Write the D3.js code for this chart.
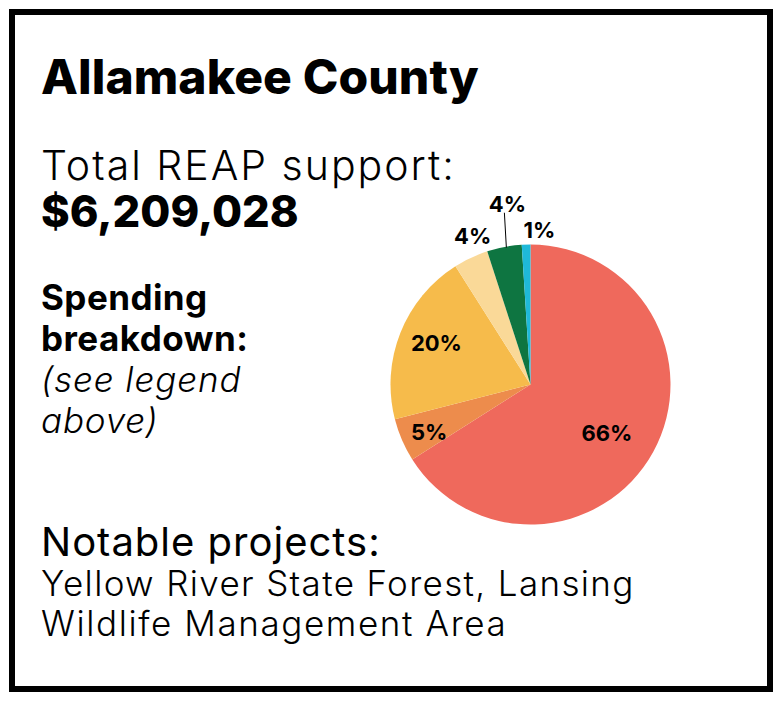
<!DOCTYPE html>
<html>
<head>
<meta charset="utf-8">
<script src="https://cdn.jsdelivr.net/npm/d3@7"></script>
<style>
body { margin: 0; background: #fff; }
text { font-family: "Inter", "Open Sans", sans-serif; fill: #000; }
</style>
</head>
<body>
<svg></svg>
<script>
const WIDTH = 782, HEIGHT = 701;
const CENTER = { x: 530.5, y: 384.5 }, RADIUS = 140;

const shares = [66, 5, 20, 4, 4, 1];
const colors = ["#ef695c", "#ed8c4c", "#f6bb4b", "#fad998", "#0e7541", "#1fb9d9"];
// nudge of each label away from its slice centroid, the small slices sit outside the pie
const labelOffsets = [[15, 23], [-37, 28], [-29, -8], [-28, -77], [-10, -104], [11, -77]];

var svg = d3.select("svg").attr("width", WIDTH).attr("height", HEIGHT).style("display", "block");

svg.append("rect").attr("x", 12).attr("y", 12).attr("width", 758).attr("height", 677)
    .attr("fill", "#fff").attr("stroke", "#000").attr("stroke-width", 6);

function addText(x, y, str, size, weight, spacing, style) {
    return svg.append("text").attr("x", x).attr("y", y).text(str)
        .attr("font-size", size).attr("font-weight", weight)
        .attr("letter-spacing", spacing).attr("font-style", style || "normal");
}

addText(41, 94, "Allamakee County", 48, 800, 0.1);
addText(41, 180, "Total REAP support:", 41, 300, 2);
addText(41, 227, "$6,209,028", 43.5, 800, 0);
addText(41, 310, "Spending", 35, 700, 0.45);
addText(41, 351, "breakdown:", 35, 700, 0.45);
addText(41, 392, "(see legend", 35, 300, 0.9, "italic");
addText(41, 433, "above)", 35, 300, 0.8, "italic");
addText(41, 556, "Notable projects:", 40, 400, 1);
addText(41, 596, "Yellow River State Forest, Lansing", 35, 300, 1.35);
addText(41, 636, "Wildlife Management Area", 35, 300, 1.6);

var pie = d3.pie().value(function(d) { return d; }).sort(null);
var arc = d3.arc().innerRadius(0).outerRadius(RADIUS);
var slices = pie(shares);
var g = svg.append("g").attr("transform", "translate(" + CENTER.x + "," + CENTER.y + ")");

g.selectAll("path").data(slices).enter().append("path")
    .attr("d", arc)
    .attr("fill", function(d, i) { return colors[i]; });

function labelPos(d, i) {
    var c = arc.centroid(d);
    return [c[0] + labelOffsets[i][0], c[1] + labelOffsets[i][1]];
}

// leader line for the second 4%
var leaderEnd = d3.pointRadial((slices[4].startAngle + slices[4].endAngle) / 2 + 0.014 - 2 * Math.PI, RADIUS - 1);
var leaderStart = labelPos(slices[4], 4);
g.append("line")
    .attr("x1", leaderStart[0] - 3).attr("y1", leaderStart[1] + 1)
    .attr("x2", leaderEnd[0]).attr("y2", leaderEnd[1])
    .attr("stroke", "#000").attr("stroke-width", 1);

g.selectAll(".pct").data(slices).enter().append("text")
    .attr("class", "pct")
    .attr("x", function(d, i) { return labelPos(d, i)[0]; })
    .attr("y", function(d, i) { return labelPos(d, i)[1]; })
    .attr("text-anchor", "middle")
    .attr("font-size", 22)
    .attr("font-weight", 700)
    .text(function(d) { return d.value + "%"; });
</script>
</body>
</html>
